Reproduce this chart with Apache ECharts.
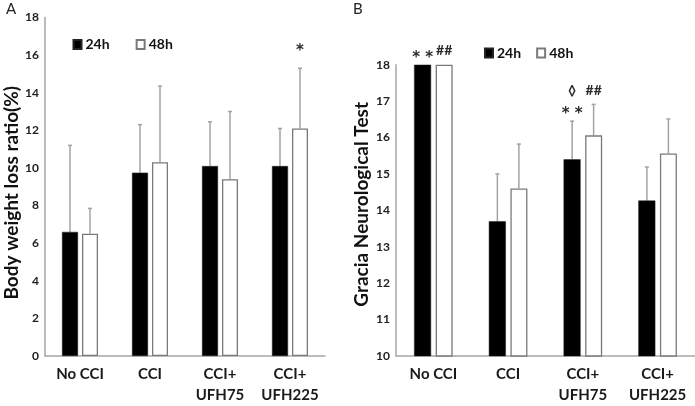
<!DOCTYPE html>
<html><head><meta charset="utf-8">
<script src="https://cdn.jsdelivr.net/npm/echarts@6/dist/echarts.min.js"></script>
<style>html,body{margin:0;padding:0;background:#fff}#c{width:695px;height:406px}</style>
</head><body><div id="c"></div>
<script>
const categories = ['No CCI', 'CCI', 'CCI+\nUFH75', 'CCI+\nUFH225'];
const seriesNames = ['24h', '48h'];
// Panel A: body weight loss ratio (%)
const weight24 = [6.6, 9.75, 10.1, 10.1];
const weight24Err = [4.6, 2.55, 2.35, 2.0];
const weight48 = [6.5, 10.3, 9.4, 12.1];
const weight48Err = [1.35, 4.05, 3.6, 3.2];
// Panel B: Gracia neurological test
const neuro24 = [18, 13.7, 15.4, 14.27];
const neuro24Err = [0, 1.3, 1.05, 0.92];
const neuro48 = [18, 14.6, 16.06, 15.56];
const neuro48Err = [0, 1.22, 0.85, 0.95];
const ticksA = [0, 2, 4, 6, 8, 10, 12, 14, 16, 18];
const ticksB = [10, 11, 12, 13, 14, 15, 16, 17, 18];
// annotations: [category index, series index, text]
const annotA = [[3, 1, '*']];
const annotB = [[0, 0, '* *'], [0, 1, '##'], [2, 0, '* *'], [2, 0, '◊'], [2, 1, '##']];

const FONT = 'Lato';
const errColor = '#a3a3a3';

function errRender(offset) {
  return function (params, api) {
    const c = api.value(0), v = api.value(1), e = api.value(2);
    if (!e) return null;
    const p0 = api.coord([c, v]);
    const p1 = api.coord([c, v + e]);
    const x = p0[0] + offset;
    return {
      type: 'group', children: [
        { type: 'line', shape: { x1: x, y1: p0[1], x2: x, y2: p1[1] }, style: { stroke: errColor, lineWidth: 1.5 } },
        { type: 'line', shape: { x1: x - 2, y1: p1[1], x2: x + 2, y2: p1[1] }, style: { stroke: errColor, lineWidth: 1.5 } }
      ]
    };
  };
}
function annotRender(list, offset, vals, errs) {
  return function (params, api) {
    const a = list[params.dataIndex];
    const c = a[0], s = a[1], text = a[2];
    const star = text.indexOf('*') >= 0;
    let lift = 14;
    if (text === '◊') lift = 30;
    if (star) lift = text === '*' ? 17 : 7;
    const top = vals[s][c] + errs[s][c];
    const p = api.coord([c, top]);
    const x = p[0] + (s === 0 ? -offset : offset);
    return {
      type: 'text', x: x, y: p[1] - lift,
      style: { text: text, fill: '#2a2a2a',
        font: star ? 'bold 15px "DejaVu Sans"' : 'bold 14px ' + FONT, align: 'center', verticalAlign: 'middle' }
    };
  };
}

const chart = echarts.init(document.getElementById('c'));
const axisLine = { lineStyle: { color: '#a6a6a6', width: 1.5 } };
const catLabel = { fontFamily: FONT, fontWeight: 'bold', fontSize: 15, color: '#1a1a1a', lineHeight: 21, margin: 8, interval: 0 };
const valLabel = { fontFamily: FONT, fontWeight: 'bold', fontSize: 12, color: '#222', margin: 6 };
const nameStyle = { fontFamily: FONT, fontWeight: 'bold', fontSize: 19, color: '#111' };
const blackBar = { color: '#000', borderColor: '#222', borderWidth: 0.5 };
const whiteBar = { color: '#fff', borderColor: '#7a7a7a', borderWidth: 1.3 };
const legendText = { fontFamily: FONT, fontWeight: 'bold', fontSize: 14, color: '#111', padding: [0, 0, 0, -1] };

chart.setOption({
  animation: false,
  title: [
    { text: 'A', left: 1, top: -3, textStyle: { fontFamily: FONT, fontWeight: 'normal', fontSize: 15, color: '#222' } },
    { text: 'B', left: 348, top: -3, textStyle: { fontFamily: FONT, fontWeight: 'normal', fontSize: 15, color: '#222' } }
  ],
  legend: [
    { data: seriesNames, left: 72.5, top: 37.5, padding: 0, itemWidth: 8, itemHeight: 9, itemGap: 26, icon: 'rect', textStyle: legendText },
    { data: seriesNames, left: 484, top: 46, padding: 0, itemWidth: 8, itemHeight: 9, itemGap: 15, icon: 'rect', textStyle: legendText }
  ],
  grid: [
    { left: 45, top: 17.5, width: 280, height: 343.5 },
    { left: 396, top: 64.7, width: 299, height: 297.6 }
  ],
  xAxis: [
    { type: 'category', gridIndex: 0, data: categories, axisLine: axisLine, axisTick: { show: false }, axisLabel: catLabel },
    { type: 'category', gridIndex: 1, data: categories, axisLine: axisLine, axisTick: { show: false }, axisLabel: catLabel }
  ],
  yAxis: [
    { type: 'value', gridIndex: 0, min: ticksA[0], max: ticksA[ticksA.length - 1], interval: ticksA[1] - ticksA[0],
      axisLine: Object.assign({ show: true }, axisLine), axisTick: { show: false }, splitLine: { show: false }, axisLabel: valLabel,
      name: 'Body weight loss ratio(%)', nameLocation: 'middle', nameGap: 24,
      nameTextStyle: Object.assign({ padding: [0, 12, 0, 0] }, nameStyle) },
    { type: 'value', gridIndex: 1, min: ticksB[0], max: ticksB[ticksB.length - 1], interval: ticksB[1] - ticksB[0],
      axisLine: Object.assign({ show: true }, axisLine), axisTick: { show: false }, splitLine: { show: false }, axisLabel: valLabel,
      name: 'Gracia Neurological Test', nameLocation: 'middle', nameGap: 25,
      nameTextStyle: Object.assign({ padding: [0, 0, 0, 12] }, nameStyle) }
  ],
  series: [
    { name: '24h', type: 'bar', xAxisIndex: 0, yAxisIndex: 0, data: weight24, barWidth: 16, barGap: '25%', itemStyle: blackBar, z: 3 },
    { name: '48h', type: 'bar', xAxisIndex: 0, yAxisIndex: 0, data: weight48, barWidth: 16, barGap: '25%', itemStyle: whiteBar, z: 3 },
    { name: '24h', type: 'bar', xAxisIndex: 1, yAxisIndex: 1, data: neuro24, barWidth: 17, barGap: '27%', itemStyle: blackBar, z: 3 },
    { name: '48h', type: 'bar', xAxisIndex: 1, yAxisIndex: 1, data: neuro48, barWidth: 17, barGap: '27%', itemStyle: whiteBar, z: 3 },
    { type: 'custom', xAxisIndex: 0, yAxisIndex: 0, renderItem: errRender(-10), data: weight24.map((v, i) => [i, v, weight24Err[i]]), z: 2, silent: true },
    { type: 'custom', xAxisIndex: 0, yAxisIndex: 0, renderItem: errRender(10), data: weight48.map((v, i) => [i, v, weight48Err[i]]), z: 2, silent: true },
    { type: 'custom', xAxisIndex: 1, yAxisIndex: 1, renderItem: errRender(-10.75), data: neuro24.map((v, i) => [i, v, neuro24Err[i]]), z: 2, silent: true },
    { type: 'custom', xAxisIndex: 1, yAxisIndex: 1, renderItem: errRender(10.75), data: neuro48.map((v, i) => [i, v, neuro48Err[i]]), z: 2, silent: true },
    { type: 'custom', xAxisIndex: 0, yAxisIndex: 0, renderItem: annotRender(annotA, 10, [weight24, weight48], [weight24Err, weight48Err]),
      data: annotA.map(a => [a[0], weight48[a[0]]]), z: 5, silent: true, clip: false },
    { type: 'custom', xAxisIndex: 1, yAxisIndex: 1, renderItem: annotRender(annotB, 10.75, [neuro24, neuro48], [neuro24Err, neuro48Err]),
      data: annotB.map(a => [a[0], neuro24[a[0]]]), z: 5, silent: true, clip: false }
  ]
});
</script></body></html>
